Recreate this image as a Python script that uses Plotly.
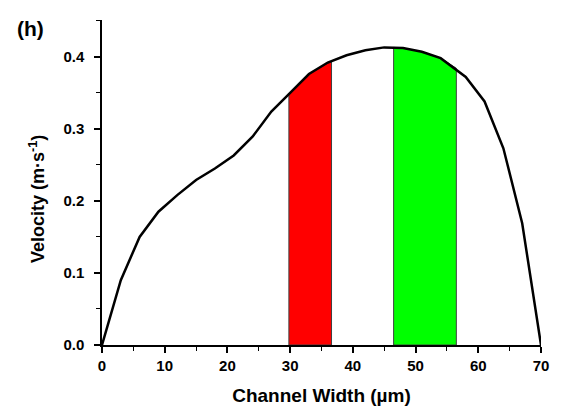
import plotly.graph_objects as go

# Velocity profile across the channel
width_um = [0, 3, 6, 9, 12, 15, 18, 21, 24, 27, 30, 33, 36, 39, 42, 45, 48, 51, 54, 58, 61, 64, 67, 70]
velocity = [0, 0.090, 0.150, 0.185, 0.208, 0.229, 0.245, 0.263, 0.289, 0.324, 0.350, 0.376, 0.392,
            0.402, 0.409, 0.413, 0.412, 0.407, 0.398, 0.372, 0.338, 0.273, 0.169, 0]

# Highlighted bands (x positions and top of band)
red_x = [29.8, 33, 36.6]
red_y = [0.348, 0.376, 0.394]
green_x = [46.5, 48, 51, 54, 56.5]
green_y = [0.413, 0.412, 0.407, 0.398, 0.384]

x_ticks = [0, 10, 20, 30, 40, 50, 60, 70]
y_ticks = [0.0, 0.1, 0.2, 0.3, 0.4]
y_tick_text = ["0.0", "0.1", "0.2", "0.3", "0.4"]

FONT = "Liberation Sans, Arial, sans-serif"

fig = go.Figure()

def band(xs, ys, color):
    bx = [xs[0]] + xs + [xs[-1], xs[0]]
    by = [0] + ys + [0, 0]
    fig.add_trace(go.Scatter(x=bx, y=by, mode="lines", fill="toself", fillcolor=color,
                             line=dict(color="#404040", width=1), hoverinfo="skip",
                             showlegend=False))

band(red_x, red_y, "#ff0000")
band(green_x, green_y, "#00ff00")

fig.add_trace(go.Scatter(x=width_um, y=velocity, mode="lines",
                         line=dict(color="black", width=2.5), showlegend=False))

axis_common = dict(showline=True, linecolor="black", linewidth=1.5, ticks="outside",
                   ticklen=6, tickwidth=1.5, tickcolor="black", showgrid=False,
                   zeroline=False, mirror=False,
                   tickfont=dict(family=FONT, size=15, color="black", weight="bold"))

fig.update_xaxes(range=[0, 70], tickvals=x_ticks,
                 minor=dict(ticks="outside", dtick=5, ticklen=4, tickwidth=1.2, tickcolor="black"),
                 title=dict(text="Channel Width (µm)", standoff=16,
                            font=dict(family=FONT, size=19, color="black", weight="bold")),
                 **axis_common)
fig.update_yaxes(range=[0, 0.451], tickvals=y_ticks, ticktext=y_tick_text, ticklabelstandoff=7,
                 minor=dict(ticks="outside", dtick=0.05, ticklen=4, tickwidth=1.2, tickcolor="black"),
                 **axis_common)

fig.add_annotation(text="Velocity (m·s<sup>-1</sup>)", xref="paper", yref="paper",
                   x=-0.148, y=0.449, textangle=-90, xanchor="center", yanchor="middle",
                   showarrow=False,
                   font=dict(family=FONT, size=18, color="black", weight="bold"))

fig.add_annotation(text="(h)", xref="paper", yref="paper", x=-0.164, y=0.975,
                   xanchor="center", yanchor="middle", showarrow=False,
                   font=dict(family=FONT, size=21, color="black", weight="bold"))

fig.update_layout(width=570, height=414, margin=dict(l=102, r=29, t=20, b=69),
                  plot_bgcolor="white", paper_bgcolor="white")

fig.write_html("out.html")
